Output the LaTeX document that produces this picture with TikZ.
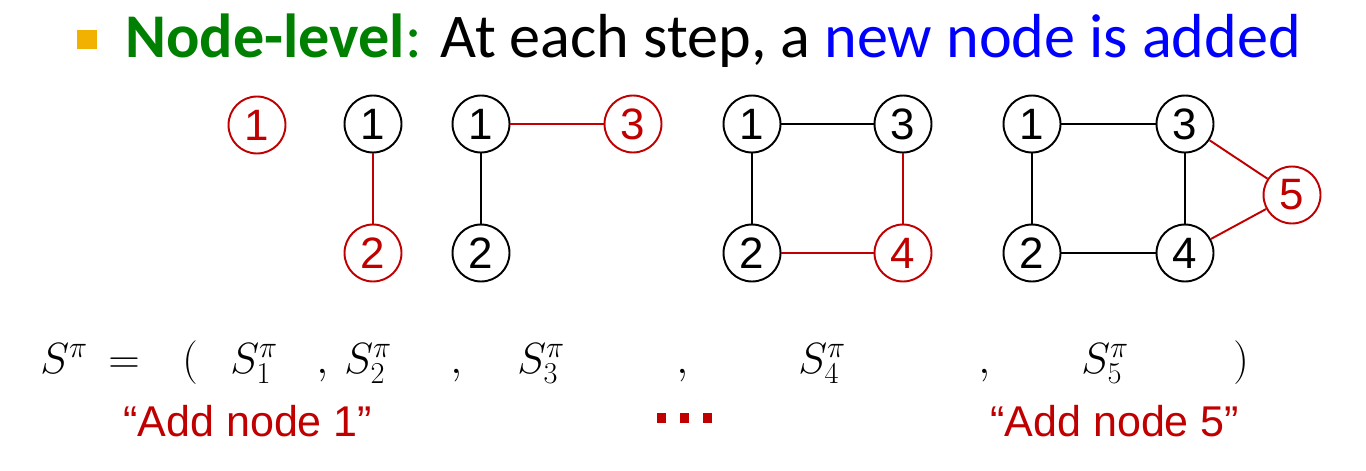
\documentclass[tikz,border=0pt]{standalone}
\usepackage{fontspec}
\setmainfont{Liberation Sans}
\newfontfamily\titlefont{Carlito}
\definecolor{myred}{HTML}{C00000}
\definecolor{mygreen}{HTML}{008000}
\definecolor{myblue}{HTML}{0000FF}
\definecolor{bulletc}{HTML}{F2B000}
\tikzset{
  gn/.style={circle, draw=black, line width=1.1pt, minimum size=1.14cm, inner sep=0pt, text=black,
    font=\fontsize{25}{26}\selectfont},
  rn/.style={gn, draw=myred, text=myred},
  blk/.style={line width=1.1pt, draw=black},
  rln/.style={line width=1.1pt, draw=myred},
  mth/.style={inner sep=0pt, anchor=base west, font=\fontsize{27}{30}\selectfont},
  lbl/.style={inner sep=0pt, anchor=base west, text=myred, font=\fontsize{24.5}{30}\selectfont},
}
\begin{document}
\begin{tikzpicture}[x=0.02cm,y=-0.02cm]
\useasboundingbox (0,0) rectangle (1366,470);
% title
\fill[bulletc] (77,30) rectangle (97,49);
\node[inner sep=0pt, anchor=base west, font=\titlefont\fontsize{35.4}{40}\selectfont] (title) at (125,57)
  {\textcolor{mygreen}{\textbf{Node-level}:} At each step, a \textcolor{myblue}{new node is added}};
% graph 1
\node[rn] (a1) at (257,125) {1};
% graph 2
\node[gn] (b1) at (373,124) {1};
\node[rn] (b2) at (373,253) {2};
\draw[rln] (b1) -- (b2);
% graph 3
\node[gn] (c1) at (481,124) {1};
\node[gn] (c2) at (481,253) {2};
\node[rn] (c3) at (633,124) {3};
\draw[blk] (c1) -- (c2);
\draw[rln] (c1) -- (c3);
% graph 4
\node[gn] (d1) at (752,124) {1};
\node[gn] (d3) at (903,124) {3};
\node[gn] (d2) at (752,253) {2};
\node[rn] (d4) at (903,253) {4};
\draw[blk] (d1) -- (d3);
\draw[blk] (d1) -- (d2);
\draw[rln] (d3) -- (d4);
\draw[rln] (d2) -- (d4);
% graph 5
\node[gn] (e1) at (1032,124) {1};
\node[gn] (e3) at (1185,124) {3};
\node[gn] (e2) at (1032,253) {2};
\node[gn] (e4) at (1185,253) {4};
\node[rn] (e5) at (1292,195) {5};
\draw[blk] (e1) -- (e3);
\draw[blk] (e1) -- (e2);
\draw[blk] (e3) -- (e4);
\draw[blk] (e2) -- (e4);
\draw[rln] (e3) -- (e5);
\draw[rln] (e4) -- (e5);
% sequence
\node[mth] (s0) at (40,373) {$S^{\pi}$};
\node[mth] (eq) at (108,373) {$=$};
\node[mth] (lp) at (182,373) {$($};
\node[mth] (s1) at (230,373) {$S_1^{\pi}$};
\node[mth] (k1) at (316,373) {$,$};
\node[mth] (s2) at (344,373) {$S_2^{\pi}$};
\node[mth] (k2) at (450,373) {$,$};
\node[mth] (s3) at (517,373) {$S_3^{\pi}$};
\node[mth] (k3) at (676,373) {$,$};
\node[mth] (s4) at (798,373) {$S_4^{\pi}$};
\node[mth] (k4) at (978,373) {$,$};
\node[mth] (s5) at (1081,373) {$S_5^{\pi}$};
\node[mth] (rp) at (1233,373) {$)$};
% labels
\node[lbl] (l1) at (123,436) {“Add node 1”};
\node[lbl] (l5) at (990,436) {“Add node 5”};
\fill[myred] (657,413) rectangle (666,423);
\fill[myred] (680,413) rectangle (689,423);
\fill[myred] (703,413) rectangle (712,423);
\end{tikzpicture}
\end{document}
